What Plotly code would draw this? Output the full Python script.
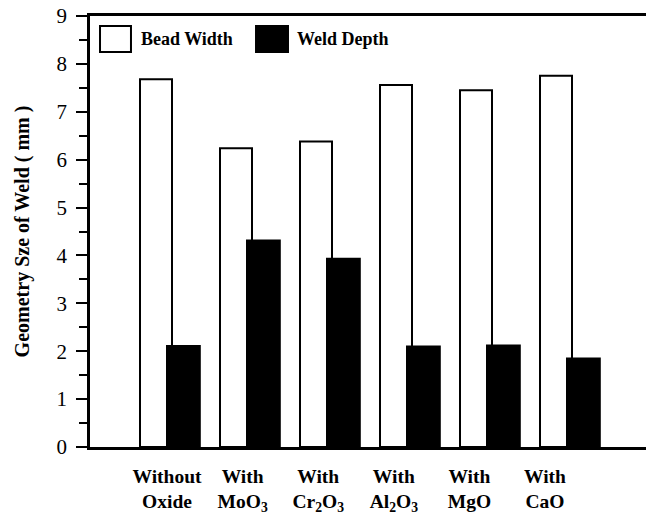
import plotly.graph_objects as go

categories = ["Without Oxide", "With MoO3", "With Cr2O3", "With Al2O3", "With MgO", "With CaO"]
tick_labels = ["Without<br>Oxide", "With<br>MoO<sub>3</sub>", "With<br>Cr<sub>2</sub>O<sub>3</sub>",
               "With<br>Al<sub>2</sub>O<sub>3</sub>", "With<br>MgO", "With<br>CaO"]
bead_width = [7.68, 6.24, 6.38, 7.56, 7.45, 7.75]
weld_depth = [2.11, 4.31, 3.93, 2.10, 2.12, 1.85]

serif = "Liberation Serif"

fig = go.Figure()
fig.add_trace(go.Bar(
    x=categories, y=bead_width, name="Bead Width",
    marker=dict(color="white", line=dict(color="black", width=2)),
    offset=-0.375, width=0.40, showlegend=False,
))
fig.add_trace(go.Bar(
    x=categories, y=weld_depth, name="Weld Depth",
    marker=dict(color="black", line=dict(color="black", width=2)),
    offset=-0.0375, width=0.41, showlegend=False,
))
# invisible trace carrying the label axis
fig.add_trace(go.Scatter(x=list(range(len(tick_labels))), y=[0] * len(tick_labels),
                         xaxis="x2", mode="markers", marker=dict(opacity=0),
                         hoverinfo="skip", showlegend=False))

fig.update_layout(
    width=646, height=515,
    margin=dict(l=90, r=0, t=16, b=68),
    paper_bgcolor="white", plot_bgcolor="white",
    barmode="overlay",
    font=dict(family=serif, color="black"),
    xaxis=dict(
        type="category", range=[-1.0, 5.95], automargin=False,
        showline=True, linecolor="black", linewidth=2.5, mirror=True,
        showgrid=False, zeroline=False, ticks="", showticklabels=False,
    ),
    xaxis2=dict(
        overlaying="x", anchor="y", side="bottom", automargin=False,
        range=[-1.019, 6.336], tickmode="array",
        tickvals=list(range(len(tick_labels))), ticktext=tick_labels,
        showline=False, showgrid=False, zeroline=False, ticks="",
        tickfont=dict(family=serif, size=19.5, color="black", weight="bold"),
        ticklabelstandoff=15,
    ),
    yaxis=dict(
        range=[0, 9], tickmode="linear", dtick=1, tick0=0, automargin=False,
        showline=True, linecolor="black", linewidth=2.5,
        showgrid=False, zeroline=False,
        ticks="outside", ticklen=11, tickwidth=2, tickcolor="black",
        minor=dict(dtick=0.5, ticks="outside", ticklen=8, tickwidth=2, tickcolor="black"),
        tickfont=dict(family=serif, size=21, color="black"),
        ticklabelstandoff=5,
        title=dict(text="Geometry Sze of Weld ( mm )", standoff=22,
                   font=dict(family=serif, size=20, color="black", weight="bold")),
    ),
)

# legend drawn as boxes + text (paper coordinates)
fig.add_shape(type="rect", xref="paper", yref="paper", x0=0.018, x1=0.0737, y0=0.9165, y1=0.977,
              line=dict(color="black", width=2), fillcolor="white")
fig.add_shape(type="rect", xref="paper", yref="paper", x0=0.2986, x1=0.3561, y0=0.9165, y1=0.977,
              line=dict(color="black", width=2), fillcolor="black")
fig.add_annotation(xref="paper", yref="paper", x=0.088, y=0.9466, xanchor="left", yanchor="middle",
                   text="Bead Width", showarrow=False,
                   font=dict(family=serif, size=18, color="black", weight="bold"))
fig.add_annotation(xref="paper", yref="paper", x=0.3687, y=0.9466, xanchor="left", yanchor="middle",
                   text="Weld Depth", showarrow=False,
                   font=dict(family=serif, size=18, color="black", weight="bold"))

fig.write_html("out.html", config={"displayModeBar": False},
               post_script="document.body.style.margin='0';")
